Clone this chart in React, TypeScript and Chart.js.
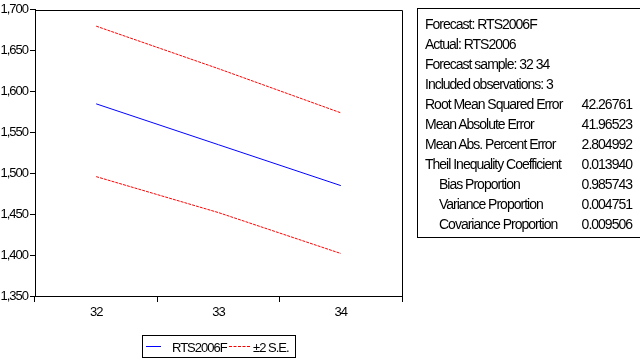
import React, { useEffect, useRef } from "react";
import { Chart, registerables } from "chart.js";

Chart.register(...registerables);

const categories = ["32", "33", "34"];
const forecast = [1585, 1535, 1485];
const upperBand = [1680, 1628, 1574];
const lowerBand = [1496, 1452, 1402];
const yMin = 1350;
const yMax = 1700;
const yStep = 50;

const forecastLabel = "RTS2006F";
const bandLabel = "±2 S.E.";

const statsLabels = [
  "Forecast: RTS2006F",
  "Actual: RTS2006",
  "Forecast sample: 32 34",
  "Included observations: 3",
  "Root Mean Squared Error",
  "Mean Absolute Error",
  "Mean Abs. Percent Error",
  "Theil Inequality Coefficient",
  "Bias Proportion",
  "Variance Proportion",
  "Covariance Proportion",
];
const statsValues = ["", "", "", "", "42.26761", "41.96523", "2.804992", "0.013940", "0.985743", "0.004751", "0.009506"];
const statsIndent = [false, false, false, false, false, false, false, false, true, true, true];

const FONT = "'Liberation Sans', Arial, sans-serif";

const framePlugin = {
  id: "frameAndLegend",
  beforeDraw(chart: any) {
    (chart.ctx as any).letterSpacing = "-1px";
  },
  afterDraw(chart: any) {
    const ctx = chart.ctx;
    const a = chart.chartArea;
    ctx.save();
    ctx.strokeStyle = "#000";
    ctx.lineWidth = 1;
    ctx.beginPath();
    ctx.moveTo(Math.round(a.left) + 0.5, Math.round(a.top) + 0.5);
    ctx.lineTo(Math.round(a.right) + 0.5, Math.round(a.top) + 0.5);
    ctx.lineTo(Math.round(a.right) + 0.5, Math.round(a.bottom) + 0.5);
    ctx.stroke();

    // legend
    (ctx as any).letterSpacing = "-1px";
    const lx = 142.5, ly = 335.5, lw = 153, lh = 22;
    ctx.strokeRect(lx, ly, lw, lh);
    const ds = chart.data.datasets;
    const midY = 346.5;
    ctx.strokeStyle = ds[0].borderColor;
    ctx.beginPath();
    ctx.moveTo(146, midY);
    ctx.lineTo(161, midY);
    ctx.stroke();
    ctx.strokeStyle = ds[1].borderColor;
    ctx.setLineDash([3, 1.5]);
    ctx.beginPath();
    ctx.moveTo(229, midY);
    ctx.lineTo(251, midY);
    ctx.stroke();
    ctx.setLineDash([]);
    ctx.fillStyle = "#000";
    ctx.font = `13px ${FONT}`;
    ctx.textBaseline = "alphabetic";
    ctx.textAlign = "left";
    ctx.fillText(ds[0].label, 172, 352);
    ctx.fillText(ds[1].label, 253, 352);
    ctx.restore();
  },
};

export default function App() {
  const ref = useRef<HTMLCanvasElement | null>(null);

  useEffect(() => {
    if (!ref.current) return;
    const chart = new Chart(ref.current, {
      type: "line",
      data: {
        labels: categories,
        datasets: [
          { label: forecastLabel, data: forecast, borderColor: "#0000ff", borderWidth: 1, pointRadius: 0, tension: 0, fill: false },
          { label: bandLabel, data: upperBand, borderColor: "#ff0000", borderWidth: 1, borderDash: [3, 1], pointRadius: 0, tension: 0, fill: false },
          { label: bandLabel, data: lowerBand, borderColor: "#ff0000", borderWidth: 1, borderDash: [3, 1], pointRadius: 0, tension: 0, fill: false },
        ],
      },
      options: {
        responsive: false,
        animation: false,
        devicePixelRatio: 1,
        layout: { padding: { left: 0, top: 8, right: 238, bottom: 0 } },
        plugins: { legend: { display: false }, tooltip: { enabled: false } },
        scales: {
          x: {
            type: "category",
            offset: true,
            grid: { offset: true, drawOnChartArea: false, color: "#000", tickLength: 6 },
            border: { color: "#000", width: 1 },
            ticks: { color: "#000", font: { family: FONT, size: 13 }, padding: 3, maxRotation: 0 },
            afterFit: (s: any) => { s.height = 62; },
          },
          y: {
            min: yMin,
            max: yMax,
            grid: { drawOnChartArea: false, color: "#000", tickLength: 5 },
            border: { color: "#000", width: 1 },
            ticks: {
              stepSize: yStep,
              color: "#000",
              font: { family: FONT, size: 13 },
              padding: 2,
              callback: (v: any) => Number(v).toLocaleString("en-US"),
            },
            afterFit: (s: any) => { s.width = 35; },
          },
        },
      },
      plugins: [framePlugin],
    });
    return () => chart.destroy();
  }, []);

  return (
    <div style={{ position: "absolute", left: 0, top: 0, width: 640, height: 358, overflow: "hidden", background: "#fff" }}>
      <canvas ref={ref} width={640} height={358} style={{ position: "absolute", left: 0, top: 0 }} />
      <div
        style={{
          position: "absolute",
          left: 417,
          top: 8,
          width: 207,
          height: 223,
          border: "1px solid #000",
          padding: "5px 8px 0 7px",
          fontFamily: FONT,
          fontSize: 14,
          lineHeight: "20px",
          letterSpacing: "-1px",
          color: "#000",
          whiteSpace: "nowrap",
        }}
      >
        {statsLabels.map((l, i) => (
          <div key={i} style={{ position: "relative", height: 20 }}>
            <span style={{ position: "absolute", left: statsIndent[i] ? 14 : 0 }}>{l}</span>
            <span style={{ position: "absolute", right: 0 }}>{statsValues[i]}</span>
          </div>
        ))}
      </div>
    </div>
  );
}
